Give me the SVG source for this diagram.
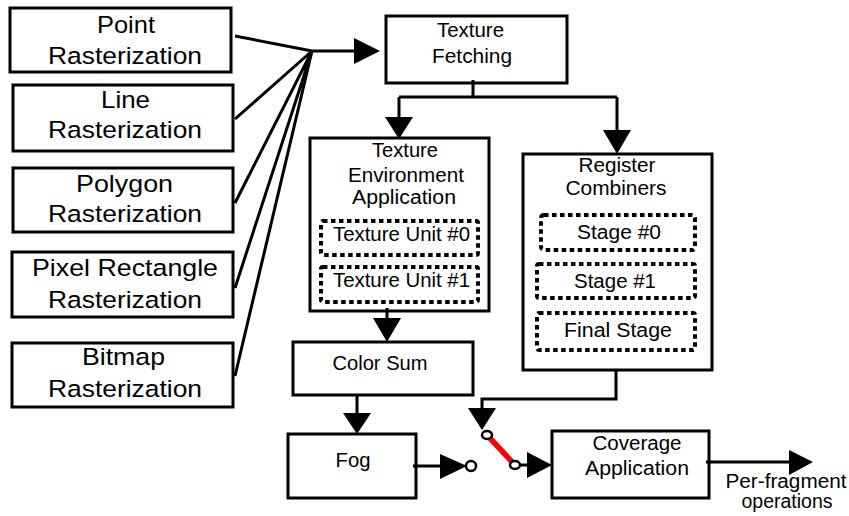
<svg xmlns="http://www.w3.org/2000/svg" width="849" height="516" viewBox="0 0 849 516">
<style>
.box{fill:#fff;stroke:#000;stroke-width:3}
.dot{fill:none;stroke:#000;stroke-width:4;stroke-dasharray:4.5 3.5}
.big{font-family:"Liberation Sans",Arial,sans-serif;font-size:24.5px;text-anchor:middle;fill:#000}
.sm{font-family:"Liberation Sans",Arial,sans-serif;font-size:19.5px;text-anchor:middle;fill:#000}
.ln{fill:none;stroke:#000;stroke-width:3}
.ah{fill:#000}
.sw{fill:#fff;stroke:#000;stroke-width:2.5}
</style>
<rect width="849" height="516" fill="#fff"/>
<g id="point-rasterization">
<rect class="box" x="10" y="8" width="221" height="64"/>
<text class="big" x="126" y="33" textLength="58" lengthAdjust="spacingAndGlyphs">Point</text>
<text class="big" x="125" y="63.5" textLength="154" lengthAdjust="spacingAndGlyphs">Rasterization</text>
</g>
<g id="line-rasterization">
<rect class="box" x="13" y="85" width="220" height="66"/>
<text class="big" x="125.5" y="108" textLength="49" lengthAdjust="spacingAndGlyphs">Line</text>
<text class="big" x="125" y="138" textLength="154" lengthAdjust="spacingAndGlyphs">Rasterization</text>
</g>
<g id="polygon-rasterization">
<rect class="box" x="13" y="168" width="220" height="64"/>
<text class="big" x="124.5" y="192" textLength="97" lengthAdjust="spacingAndGlyphs">Polygon</text>
<text class="big" x="125" y="222" textLength="154" lengthAdjust="spacingAndGlyphs">Rasterization</text>
</g>
<g id="pixel-rectangle-rasterization">
<rect class="box" x="12" y="252" width="221" height="65"/>
<text class="big" x="125" y="276" textLength="186" lengthAdjust="spacingAndGlyphs">Pixel Rectangle</text>
<text class="big" x="125" y="308" textLength="154" lengthAdjust="spacingAndGlyphs">Rasterization</text>
</g>
<g id="bitmap-rasterization">
<rect class="box" x="12" y="343" width="221" height="64"/>
<text class="big" x="123.5" y="365" textLength="83" lengthAdjust="spacingAndGlyphs">Bitmap</text>
<text class="big" x="125" y="397" textLength="154" lengthAdjust="spacingAndGlyphs">Rasterization</text>
</g>
<g id="texture-fetching">
<rect class="box" x="386" y="16" width="181" height="67"/>
<text class="sm" x="470.5" y="37" textLength="67" lengthAdjust="spacingAndGlyphs">Texture</text>
<text class="sm" x="472" y="63" textLength="80" lengthAdjust="spacingAndGlyphs">Fetching</text>
</g>
<g id="texture-environment-application">
<rect class="box" x="310" y="138" width="179" height="173"/>
<text class="sm" x="405" y="157" textLength="66" lengthAdjust="spacingAndGlyphs">Texture</text>
<text class="sm" x="406" y="182" textLength="116" lengthAdjust="spacingAndGlyphs">Environment</text>
<text class="sm" x="404" y="204" textLength="104" lengthAdjust="spacingAndGlyphs">Application</text>
<g id="texture-unit-0">
<rect class="dot" x="321" y="221" width="157" height="34" rx="2"/>
<text class="sm" x="401.5" y="241" textLength="137" lengthAdjust="spacingAndGlyphs">Texture Unit #0</text>
</g>
<g id="texture-unit-1">
<rect class="dot" x="321" y="267" width="157" height="35" rx="2"/>
<text class="sm" x="401.5" y="287" textLength="137" lengthAdjust="spacingAndGlyphs">Texture Unit #1</text>
</g>
</g>
<g id="register-combiners">
<rect class="box" x="523" y="154" width="189" height="216"/>
<text class="sm" x="617" y="172" textLength="77" lengthAdjust="spacingAndGlyphs">Register</text>
<text class="sm" x="616" y="195" textLength="101" lengthAdjust="spacingAndGlyphs">Combiners</text>
<g id="stage-0">
<rect class="dot" x="541" y="215" width="154" height="35" rx="3"/>
<text class="sm" x="619" y="239" textLength="84" lengthAdjust="spacingAndGlyphs">Stage #0</text>
</g>
<g id="stage-1">
<rect class="dot" x="537" y="264" width="158" height="34" rx="2"/>
<text class="sm" x="615" y="288" textLength="82" lengthAdjust="spacingAndGlyphs">Stage #1</text>
</g>
<g id="final-stage">
<rect class="dot" x="537" y="313" width="158" height="37" rx="2"/>
<text class="sm" x="618" y="337" textLength="108" lengthAdjust="spacingAndGlyphs">Final Stage</text>
</g>
</g>
<g id="color-sum">
<rect class="box" x="293" y="342" width="180" height="53"/>
<text class="sm" x="380" y="370" textLength="95" lengthAdjust="spacingAndGlyphs">Color Sum</text>
</g>
<g id="fog">
<rect class="box" x="288" y="434" width="128" height="64"/>
<text class="sm" x="353" y="467" textLength="35" lengthAdjust="spacingAndGlyphs">Fog</text>
</g>
<g id="coverage-application">
<rect class="box" x="552" y="431" width="157" height="67"/>
<text class="sm" x="637" y="450" textLength="89" lengthAdjust="spacingAndGlyphs">Coverage</text>
<text class="sm" x="637" y="475" textLength="104" lengthAdjust="spacingAndGlyphs">Application</text>
</g>
<g id="per-fragment-operations">
<text class="sm" x="786" y="488" textLength="121" lengthAdjust="spacingAndGlyphs">Per-fragment</text>
<text class="sm" x="787" y="508" textLength="91" lengthAdjust="spacingAndGlyphs">operations</text>
</g>
<g id="connectors">
<path class="ln" d="M235 36 L312 51 M235 119 L312 51 M235 203 L312 51 M235 288 L312 51 M235 376 L312 51 M312 51 H356"/>
<polygon class="ah" points="354,38 380,51 354,64"/>
<path class="ln" d="M473 80 V97 M399 97 H617 M399 97 V119 M617 97 V132"/>
<polygon class="ah" points="385,117 413,117 399,139"/>
<polygon class="ah" points="603,130 631,130 617,154"/>
<path class="ln" d="M387 308 V320"/>
<polygon class="ah" points="373,318 401,318 387,342"/>
<path class="ln" d="M357 395 V415"/>
<polygon class="ah" points="343,413 371,413 357,434"/>
<path class="ln" d="M616 370 V399 H482 V410"/>
<polygon class="ah" points="468,408 496,408 482,430"/>
<path class="ln" d="M413 466 H442"/>
<polygon class="ah" points="440,454 467,466 440,479"/>
<ellipse class="sw" cx="471" cy="466" rx="5" ry="5"/>
<line x1="487" y1="435" x2="515" y2="465" stroke="#f00" stroke-width="5.5"/>
<ellipse class="sw" cx="487" cy="435" rx="5" ry="4"/>
<ellipse class="sw" cx="515" cy="465" rx="5" ry="4"/>
<path class="ln" d="M521 465 H529"/>
<polygon class="ah" points="527,452 552,465 527,478"/>
<path class="ln" d="M706 462 H791"/>
<polygon class="ah" points="789,450 813,462 789,475"/>
</g>
</svg>
